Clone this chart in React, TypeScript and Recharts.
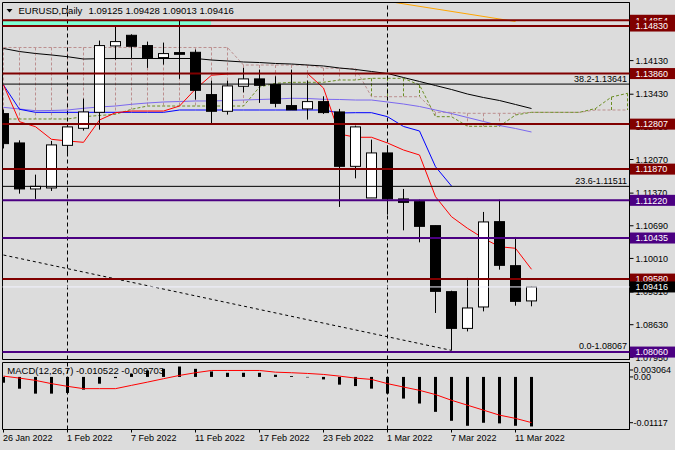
import React from 'react';
import { ComposedChart, Bar, Line, XAxis, YAxis, ReferenceLine, ReferenceArea } from 'recharts';

// ---------------- data ----------------
const dates = ['26 Jan 2022', '27 Jan 2022', '28 Jan 2022', '31 Jan 2022', '1 Feb 2022', '2 Feb 2022', '3 Feb 2022', '4 Feb 2022', '7 Feb 2022', '8 Feb 2022', '9 Feb 2022', '10 Feb 2022', '11 Feb 2022', '14 Feb 2022', '15 Feb 2022', '16 Feb 2022', '17 Feb 2022', '18 Feb 2022', '21 Feb 2022', '22 Feb 2022', '23 Feb 2022', '24 Feb 2022', '25 Feb 2022', '28 Feb 2022', '1 Mar 2022', '2 Mar 2022', '3 Mar 2022', '4 Mar 2022', '7 Mar 2022', '8 Mar 2022', '9 Mar 2022', '10 Mar 2022', '11 Mar 2022', '14 Mar 2022'];
const xTickDates = ['26 Jan 2022', '1 Feb 2022', '7 Feb 2022', '11 Feb 2022', '17 Feb 2022', '23 Feb 2022', '1 Mar 2022', '7 Mar 2022', '11 Mar 2022'];
const monthStarts = ['1 Feb 2022', '1 Mar 2022'];
const SLOTS = 40; // 34 bars + 6 future slots for the shifted cloud

const opens = [1.13026, 1.12415, 1.11457, 1.11478, 1.12365, 1.12720, 1.13053, 1.14436, 1.14657, 1.14443, 1.14193, 1.14297, 1.14303, 1.13422, 1.13074, 1.13595, 1.13749, 1.13630, 1.13193, 1.13124, 1.13276, 1.13061, 1.11928, 1.11270, 1.12207, 1.11249, 1.11193, 1.10693, 1.09318, 1.08553, 1.08999, 1.10776, 1.09859, 1.09125];
const highs = [1.13110, 1.12470, 1.11755, 1.12457, 1.12760, 1.13338, 1.14547, 1.14850, 1.14678, 1.14526, 1.14505, 1.14960, 1.14359, 1.13713, 1.13713, 1.13978, 1.13943, 1.13803, 1.13943, 1.13713, 1.13386, 1.13124, 1.12776, 1.12484, 1.12365, 1.11457, 1.11234, 1.10693, 1.09338, 1.09603, 1.10978, 1.11234, 1.10457, 1.09428];
const lows = [1.12300, 1.11359, 1.11249, 1.11415, 1.12178, 1.12672, 1.12692, 1.14150, 1.14186, 1.13978, 1.14047, 1.13750, 1.13318, 1.12818, 1.13005, 1.13470, 1.13249, 1.13157, 1.13103, 1.12901, 1.13020, 1.11082, 1.11678, 1.11270, 1.10922, 1.10595, 1.10345, 1.08874, 1.08095, 1.08490, 1.08907, 1.09776, 1.09026, 1.09013];
const closes = [1.12401, 1.11457, 1.11511, 1.12374, 1.12749, 1.13061, 1.14443, 1.14526, 1.14428, 1.14186, 1.14276, 1.14261, 1.13511, 1.13074, 1.13603, 1.13749, 1.13615, 1.13240, 1.13103, 1.13276, 1.13047, 1.11928, 1.12749, 1.12207, 1.11249, 1.11178, 1.10678, 1.09324, 1.08553, 1.08978, 1.10770, 1.09866, 1.09116, 1.09416];

const tenkan = [1.13622, 1.12858, 1.12753, 1.12491, 1.12456, 1.12428, 1.12893, 1.13045, 1.13080, 1.13080, 1.13080, 1.13184, 1.13538, 1.13825, 1.13850, 1.13860, 1.13860, 1.13860, 1.13860, 1.13860, 1.13559, 1.12601, 1.12533, 1.12533, 1.12414, 1.12268, 1.12164, 1.11296, 1.10879, 1.10637, 1.10429, 1.10254, 1.10221, 1.09784];
const kijun = [1.13622, 1.13116, 1.13053, 1.13053, 1.13053, 1.13053, 1.13053, 1.13053, 1.13053, 1.13053, 1.13053, 1.13101, 1.13101, 1.13101, 1.13101, 1.13101, 1.13101, 1.13101, 1.13101, 1.13101, 1.13101, 1.13039, 1.13045, 1.13045, 1.12962, 1.12758, 1.12664, 1.11920, 1.11518];
const spanA = [1.12914, 1.12914, 1.12914, 1.12914, 1.12914, 1.12962, 1.12987, 1.13012, 1.13116, 1.13184, 1.13184, 1.13184, 1.13184, 1.13184, 1.13184, 1.13184, 1.13580, 1.13657, 1.13678, 1.13678, 1.13678, 1.13726, 1.13726, 1.13761, 1.13761, 1.13761, 1.13622, 1.12962, 1.12962, 1.12762, 1.12762, 1.12762, 1.12997, 1.13053, 1.13053, 1.13053, 1.13053, 1.13132, 1.13372, 1.13449];
const spanB = [1.14403, 1.14403, 1.14403, 1.14403, 1.14403, 1.14403, 1.14403, 1.14403, 1.14403, 1.14403, 1.14403, 1.14403, 1.14403, 1.14403, 1.14403, 1.14038, 1.14038, 1.14038, 1.14038, 1.14038, 1.13976, 1.13965, 1.13965, 1.13378, 1.13378, 1.13378, 1.13378, 1.13053, 1.13053, 1.13032, 1.13032, 1.13032, 1.13032, 1.13053, 1.13053, 1.13053, 1.13053, 1.13101, 1.13101, 1.13101];
const maViolet = [1.13157, 1.13122, 1.13087, 1.13091, 1.13101, 1.13137, 1.13164, 1.13184, 1.13220, 1.13247, 1.13268, 1.13278, 1.13289, 1.13289, 1.13299, 1.13309, 1.13320, 1.13330, 1.13345, 1.13341, 1.13324, 1.13320, 1.13309, 1.13309, 1.13268, 1.13226, 1.13174, 1.13101, 1.13028, 1.12945, 1.12862, 1.12778, 1.12716, 1.12643];
const maBlack = [1.14382, 1.14319, 1.14278, 1.14247, 1.14211, 1.14163, 1.14170, 1.14174, 1.14174, 1.14174, 1.14174, 1.14174, 1.14174, 1.14142, 1.14122, 1.14101, 1.14090, 1.14070, 1.14059, 1.14038, 1.14018, 1.13976, 1.13945, 1.13903, 1.13861, 1.13778, 1.13695, 1.13611, 1.13528, 1.13434, 1.13361, 1.13299, 1.13216, 1.13132];
const trendIdx = [0, 28];
const trendVal = [1.10081, 1.08095];
const orangeIdx = [24, 32];
const orangeVal = [1.15365, 1.14944];

const levelPrices = [1.14970, 1.14850, 1.13860, 1.12807, 1.11870, 1.11220, 1.10435, 1.09580, 1.08060];
const levelLabels = ['1.14854', '1.14830', '1.13860', '1.12807', '1.11870', '1.11220', '1.10435', '1.09580', '1.08060'];
const fibPrices = [1.13641, 1.11511, 1.08067];
const fibLabels = ['38.2-1.13641', '23.6-1.11511', '0.0-1.08067'];
const bidPrice = 1.09416;
const bidLabel = '1.09416';
const bandLow = 1.14850;
const bandHigh = 1.14970;
const bandEndDate = '11 Feb 2022';

const priceTicks = [1.07950, 1.08630, 1.09310, 1.10010, 1.10690, 1.11370, 1.12070, 1.12750, 1.13430, 1.14130];

const macdHist = [-0.00123, -0.00250, -0.00355, -0.00355, -0.00340, -0.00270, -0.00144, -0.00025, 0.00067, 0.00137, 0.00172, 0.00221, 0.00172, 0.00116, 0.00088, 0.00088, 0.00088, 0.00046, 0.00018, -0.00010, -0.00053, -0.00164, -0.00194, -0.00249, -0.00354, -0.00460, -0.00565, -0.00742, -0.00932, -0.01038, -0.00974, -0.00987, -0.01038, -0.010522];
const macdSignal = [0.00017, -0.00025, -0.00074, -0.00143, -0.00200, -0.00249, -0.00249, -0.00249, -0.00179, -0.00110, -0.00038, 0.00032, 0.00089, 0.00137, 0.00137, 0.00137, 0.00137, 0.00101, 0.00089, 0.00074, 0.00053, 0.00017, -0.00025, -0.00053, -0.00143, -0.00215, -0.00285, -0.00375, -0.00496, -0.00601, -0.00706, -0.00812, -0.00881, -0.009703];
const macdTicks = [0.003064, 0, -0.01117];
const macdTickLabels = ['0.003064', '0.00', '-0.01117'];

const symbolTitle = 'EURUSD,Daily';
const ohlcText = '1.09125 1.09428 1.09013 1.09416';
const macdTitle = 'MACD(12,26,7) -0.010522 -0.009703';

// ---------------- styles / layout ----------------
const FONT = '"Liberation Sans", Arial, sans-serif';
const BG = '#dcdcdc';
const DARK_RED = '#800000';
const PURPLE = '#4b0082';
const OLIVE = '#6b8e23';
const ROSY = '#bc8f8f';
const levelColors = [DARK_RED, DARK_RED, DARK_RED, DARK_RED, DARK_RED, PURPLE, PURPLE, DARK_RED, PURPLE];

const W = 675;
const AXIS_W = 45.5;
const PLOT_RIGHT = W - AXIS_W;
const MAIN_H = 362;
const X_DOMAIN: [number, number] = [-0.0625, 39.125];
const Y_DOMAIN: [number, number] = [1.07905, 1.15340];
const MACD_DOMAIN: [number, number] = [-0.01117, 0.003064];
const MACD_TOP = 355;
const MACD_H = 95;
const MACD_PLOT_BOTTOM = 74.5;

// ---------------- tables ----------------
const idx = (d: string) => dates.indexOf(d);
const mainData = Array.from({ length: SLOTS }, (_, i) => ({
  i,
  open: opens[i] ?? null,
  high: highs[i] ?? null,
  low: lows[i] ?? null,
  close: closes[i] ?? null,
  tenkan: tenkan[i] ?? null,
  kijun: kijun[i] ?? null,
  spanA: spanA[i] ?? null,
  spanB: spanB[i] ?? null,
  maViolet: maViolet[i] ?? null,
  maBlack: maBlack[i] ?? null,
  trend: trendIdx.indexOf(i) >= 0 ? trendVal[trendIdx.indexOf(i)] : null,
  orange: orangeIdx.indexOf(i) >= 0 ? orangeVal[orangeIdx.indexOf(i)] : null,
}));
const macdData = dates.map((_, i) => ({ i, hist: macdHist[i], signal: macdSignal[i] }));
const xTicks = xTickDates.map(idx);

// ---------------- shapes ----------------
const candleRange = (d: any) => (d.high == null ? null : [d.low, d.high]);
const hatchRange = (d: any) => (d.spanA == null || d.spanB == null ? null : [Math.min(d.spanA, d.spanB), Math.max(d.spanA, d.spanB)]);

const Candle = (p: any) => {
  const { x, y, width, height, payload } = p;
  if (!payload || payload.high == null) return <g />;
  const { open, close, high, low } = payload;
  const cx = x + width / 2;
  const top = Math.min(y, y + height);
  const h = Math.abs(height);
  const py = (v: number) => (high === low ? top : top + ((high - v) / (high - low)) * h);
  const yo = py(open);
  const yc = py(close);
  const bt = Math.min(yo, yc);
  const bb = Math.max(yo, yc);
  const bull = close >= open;
  return (
    <g>
      <line x1={cx} x2={cx} y1={top} y2={top + h} stroke="#000" strokeWidth={1} />
      <rect x={cx - 5} y={bt} width={10} height={Math.max(bb - bt, 0.01)} fill={bull ? '#fff' : '#000'} stroke="#000" strokeWidth={1} />
    </g>
  );
};

const Hatch = (p: any) => {
  const { x, y, width, height, payload } = p;
  if (!payload || payload.spanA == null) return <g />;
  const cx = x + width / 2;
  const top = Math.min(y, y + height);
  const h = Math.abs(height);
  if (h < 1) return <g />;
  const color = payload.spanA > payload.spanB ? OLIVE : ROSY;
  return <line x1={cx} x2={cx} y1={top} y2={top + h} stroke={color} strokeWidth={1} strokeDasharray="3 2" />;
};

const HistBar = (p: any) => {
  const { x, y, width, height } = p;
  const cx = x + width / 2;
  const top = Math.min(y, y + height);
  const h = Math.abs(height);
  return <rect x={cx - 1.5} y={top} width={3} height={h} fill="#000" />;
};

const boxLabel = (text: string, color: string) => (p: any) => {
  const vb = p.viewBox || {};
  const right = (vb.x ?? 0) + (vb.width ?? 0);
  const yy = vb.y ?? 0;
  return (
    <g>
      <rect x={right + 0.5} y={yy - 5.5} width={46} height={11} fill={color} />
      <text x={right + 6} y={yy + 3.3} fill="#fff" fontSize={9} fontFamily={FONT}>{text}</text>
    </g>
  );
};

const fibLabel = (text: string) => (p: any) => {
  const vb = p.viewBox || {};
  const right = (vb.x ?? 0) + (vb.width ?? 0);
  const yy = vb.y ?? 0;
  return (
    <text x={right - 2.5} y={yy - 2.5} textAnchor="end" fill="#000" fontSize={9} fontFamily={FONT}>{text}</text>
  );
};

const XTick = (p: any) => {
  const v = p.payload?.value;
  const k = xTicks.indexOf(v);
  return (
    <text x={p.x - 0.5} y={MACD_PLOT_BOTTOM + 11.5} textAnchor="start" fill="#000" fontSize={9} fontFamily={FONT}>
      {k >= 0 ? xTickDates[k] : ''}
    </text>
  );
};

const MacdTick = (p: any) => {
  const v = p.payload?.value;
  const k = macdTicks.indexOf(v);
  let cy = p.y;
  if (k === 0) cy = p.y + 7.5;
  if (k === 2) cy = p.y - 6.8;
  return (
    <g>
      <line x1={PLOT_RIGHT} x2={PLOT_RIGHT + 3.5} y1={cy} y2={cy} stroke="#000" />
      <text x={PLOT_RIGHT + 4} y={cy + 3.2} fill="#000" fontSize={9} fontFamily={FONT}>{k >= 0 ? macdTickLabels[k] : ''}</text>
    </g>
  );
};

const layer: React.CSSProperties = { position: 'absolute', left: 0, top: 0 };
const hiddenMargin = { top: 2.5, right: AXIS_W, bottom: 2.5, left: 2.5 };

export default function App() {
  return (
    <div style={{ position: 'absolute', left: 0, top: 0, width: W, height: 450, background: BG, overflow: 'hidden', fontFamily: FONT }}>
      {/* layer 1: cloud, indicators, separators */}
      <div style={layer}>
        <ComposedChart width={W} height={MAIN_H} data={mainData} margin={hiddenMargin}>
          <XAxis dataKey="i" type="number" domain={X_DOMAIN} hide allowDataOverflow />
          <YAxis type="number" domain={Y_DOMAIN} hide allowDataOverflow />
          <ReferenceArea x1={X_DOMAIN[0]} x2={idx(bandEndDate) + 0.97} y1={bandLow} y2={bandHigh} fill="#7fffd4" fillOpacity={1} stroke="none" />
          {monthStarts.map((d) => (
            <ReferenceLine key={d} x={idx(d)} stroke="#000" strokeDasharray="4 3" />
          ))}
          <Bar dataKey={hatchRange} shape={Hatch} barSize={10} isAnimationActive={false} />
          <Line dataKey="spanB" stroke={ROSY} strokeDasharray="3 2" dot={false} activeDot={false} isAnimationActive={false} />
          <Line dataKey="spanA" stroke={OLIVE} strokeDasharray="3 2" dot={false} activeDot={false} isAnimationActive={false} />
          <Line dataKey="maBlack" stroke="#000" dot={false} activeDot={false} isAnimationActive={false} />
          <Line dataKey="maViolet" stroke="#7b68ee" dot={false} activeDot={false} isAnimationActive={false} />
          <Line dataKey="kijun" stroke="#0000ff" dot={false} activeDot={false} isAnimationActive={false} />
          <Line dataKey="tenkan" stroke="#ff0000" dot={false} activeDot={false} isAnimationActive={false} />
          <Line dataKey="trend" stroke="#000" strokeDasharray="3 3" connectNulls dot={false} activeDot={false} isAnimationActive={false} />
          <Line dataKey="orange" stroke="#ffa500" connectNulls dot={false} activeDot={false} isAnimationActive={false} />
        </ComposedChart>
      </div>
      {/* layer 2: candles + price axis */}
      <div style={layer}>
        <ComposedChart width={W} height={MAIN_H} data={mainData} margin={{ top: 2.5, right: 0, bottom: 2.5, left: 2.5 }}>
          <XAxis dataKey="i" type="number" domain={X_DOMAIN} hide allowDataOverflow />
          <YAxis
            type="number"
            orientation="right"
            width={AXIS_W}
            domain={Y_DOMAIN}
            allowDataOverflow
            ticks={priceTicks}
            interval={0}
            tickSize={4}
            tickMargin={2}
            tickFormatter={(v: number) => v.toFixed(5)}
            tick={{ fill: '#000', fontSize: 9, fontFamily: FONT }}
            axisLine={{ stroke: '#000' }}
            tickLine={{ stroke: '#000' }}
          />
          <Bar dataKey={candleRange} shape={Candle} barSize={10} isAnimationActive={false} />
        </ComposedChart>
      </div>
      {/* layer 3: horizontal levels, fibo, labels, border */}
      <div style={layer}>
        <ComposedChart width={W} height={MAIN_H} data={mainData} margin={hiddenMargin}>
          <XAxis dataKey="i" type="number" domain={X_DOMAIN} hide allowDataOverflow />
          <YAxis type="number" domain={Y_DOMAIN} hide allowDataOverflow />
          <ReferenceArea x1={X_DOMAIN[0]} x2={X_DOMAIN[1]} y1={Y_DOMAIN[0]} y2={Y_DOMAIN[1]} fill="none" fillOpacity={0} stroke="#000" strokeWidth={1} />
          {fibPrices.map((p, k) => (
            <ReferenceLine key={'f' + k} y={p} stroke="#000" strokeWidth={1} label={fibLabel(fibLabels[k])} />
          ))}
          {levelPrices.map((p, k) => (
            <ReferenceLine key={'l' + k} y={p} stroke={levelColors[k]} strokeWidth={2} label={boxLabel(levelLabels[k], levelColors[k])} />
          ))}
          <ReferenceLine y={bidPrice} stroke="#f2f2ff" strokeWidth={1} label={boxLabel(bidLabel, '#000')} />
        </ComposedChart>
      </div>
      {/* MACD panel */}
      <div style={{ position: 'absolute', left: 0, top: MACD_TOP }}>
        <ComposedChart width={W} height={MACD_H} data={macdData} margin={{ top: 7.5, right: 0, bottom: 0, left: 2.5 }}>
          <XAxis
            dataKey="i"
            type="number"
            domain={X_DOMAIN}
            allowDataOverflow
            ticks={xTicks}
            interval={0}
            height={MACD_H - MACD_PLOT_BOTTOM}
            axisLine={false}
            tickLine={{ stroke: '#000' }}
            tickSize={3}
            tick={XTick}
          />
          <YAxis
            type="number"
            orientation="right"
            width={AXIS_W}
            domain={MACD_DOMAIN}
            allowDataOverflow
            ticks={macdTicks}
            interval={0}
            tickSize={4}
            tickMargin={2}
            axisLine={{ stroke: '#000' }}
            tickLine={false}
            tick={MacdTick}
          />
          <ReferenceArea x1={X_DOMAIN[0]} x2={X_DOMAIN[1]} y1={MACD_DOMAIN[0]} y2={MACD_DOMAIN[1]} fill="none" fillOpacity={0} stroke="#000" strokeWidth={1} />
          {monthStarts.map((d) => (
            <ReferenceLine key={d} x={idx(d)} stroke="#000" strokeDasharray="4 3" />
          ))}
          <Bar dataKey="hist" shape={HistBar} barSize={2} isAnimationActive={false} />
          <Line dataKey="signal" stroke="#ff0000" dot={false} activeDot={false} isAnimationActive={false} />
        </ComposedChart>
      </div>
      {/* header texts */}
      <svg width={W} height={450} style={{ position: 'absolute', left: 0, top: 0, pointerEvents: 'none' }}>
        <polygon points="6.5,9 12.5,9 9.5,12.5" fill="#000" />
        <text x={18.5} y={14.3} fontSize={9.5} fontFamily={FONT} fill="#000">{symbolTitle}</text>
        <text x={88.5} y={14.3} fontSize={9.5} fontFamily={FONT} fill="#000">{ohlcText}</text>
        <text x={7.3} y={374.3} fontSize={9.5} fontFamily={FONT} fill="#000">{macdTitle}</text>
      </svg>
    </div>
  );
}
